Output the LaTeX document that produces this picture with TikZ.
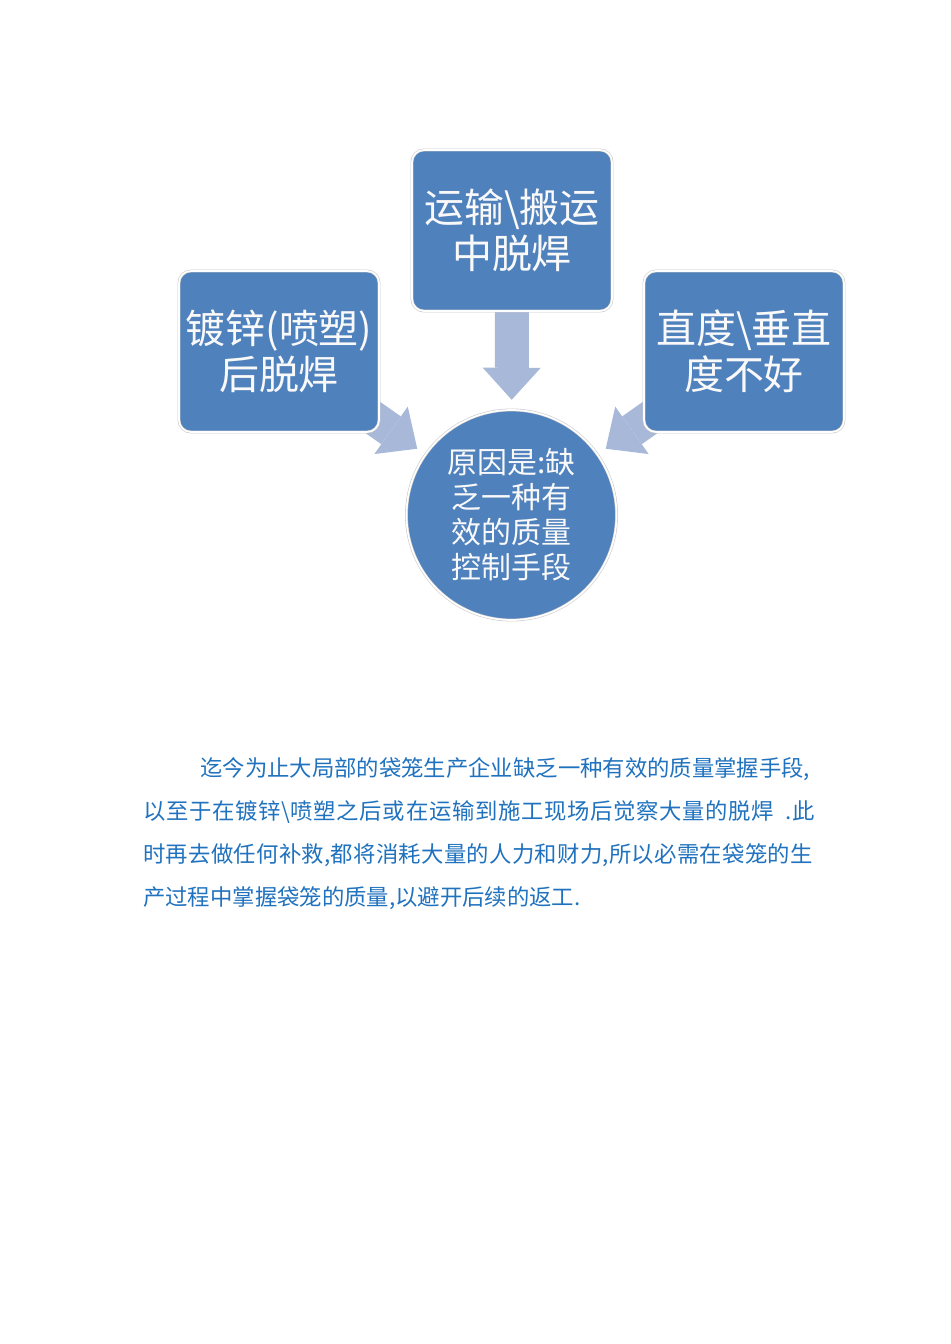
\documentclass[tikz,border=0pt]{standalone}
\usepackage{fontspec}
\newfontfamily\cjk{Noto Sans CJK SC}
\usetikzlibrary{arrows.meta, calc, backgrounds}
\definecolor{boxblue}{RGB}{79, 129, 189}
\definecolor{arrowblue}{RGB}{168, 184, 217}
\definecolor{edgegray}{RGB}{200, 200, 200}
\definecolor{textblue}{RGB}{32, 114, 190}

\begin{document}
\begin{tikzpicture}
			[x=0.025cm, y=-0.025cm,
			 stage/.style={rectangle, rounded corners=0.3cm, fill=boxblue, draw=edgegray, line width=0.4pt,
			   double=white, double distance=1.2pt, minimum width=5cm, minimum height=4.025cm, inner sep=0pt,
			   align=center, text=white!95!gray, font=\cjk\fontsize{28.4}{32.7}\selectfont},
			 cause/.style={circle, minimum size=5.25cm, fill=boxblue, draw=edgegray, line width=0.4pt,
			   double=white, double distance=1.2pt, inner sep=0pt,
			   align=center, text=white!95!gray, font=\cjk\fontsize{21.3}{24.9}\selectfont},
			 flow/.style={draw=arrowblue, line width=0.85cm, -{Triangle[line width=0pt, length=0.8cm, width=1.45cm]}},
			 body/.style={anchor=base west, inner sep=0pt, text=textblue, font=\cjk\fontsize{15.9}{20}\selectfont}]
			\useasboundingbox (0,0) rectangle (950,1344);
			
			\node[cause] (cause) at (511.5,515) {原因是:缺\\乏一种有\\效的质量\\控制手段};
			\node[stage] (transport) at (512,230.5) {运输\textbackslash 搬运\\中脱焊};
			\node[stage] (galv) at (279,351.5) {镀锌(喷塑)\\后脱焊};
			\node[stage] (straight) at (744,351.5) {直度\textbackslash 垂直\\度不好};
			
			\begin{scope}[on background layer]
			\foreach \src in {galv, transport, straight}
				\draw[flow] ($(cause)!5.75cm!(\src)$) -- ($(cause)!2.88cm!(\src)$);
			\end{scope}
			
			\node[body] (p1) at (200,776.5) {迄今为止大局部的袋笼生产企业缺乏一种有效的质量掌握手段,};
			\node[body] (p2) at (143,819.5) {\addfontfeature{LetterSpace=3}以至于在镀锌\textbackslash 喷塑之后或在运输到施工现场后觉察大量的脱焊\ \ .此};
			\node[body] (p3) at (143,862.5) {\addfontfeature{LetterSpace=1.3}时再去做任何补救,都将消耗大量的人力和财力,所以必需在袋笼的生};
			\node[body] (p4) at (143,905.5) {产过程中掌握袋笼的质量,以避开后续的返工.};
			\end{tikzpicture}
\end{document}
